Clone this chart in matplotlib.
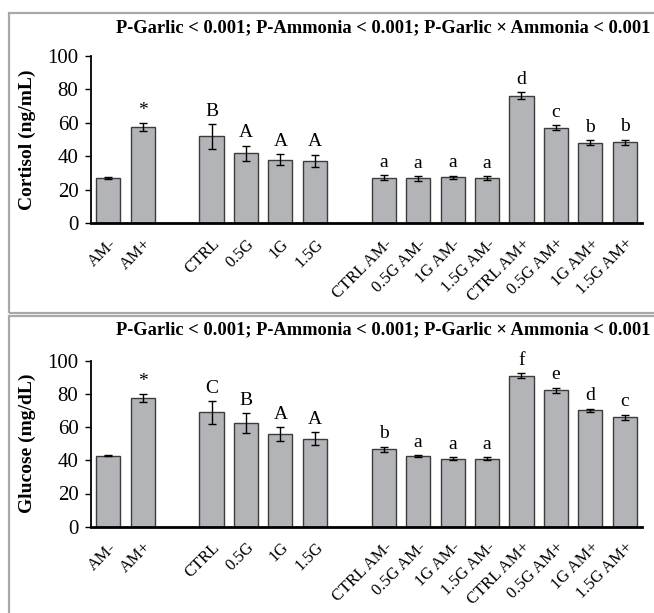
import matplotlib
matplotlib.use("Agg")
import matplotlib.pyplot as plt
from matplotlib.patches import Rectangle
import numpy as np

# categories (None = empty slot between groups)
labels = ["AM-", "AM+", None, "CTRL", "0.5G", "1G", "1.5G", None,
          "CTRL AM-", "0.5G AM-", "1G AM-", "1.5G AM-",
          "CTRL AM+", "0.5G AM+", "1G AM+", "1.5G AM+"]

cortisol = [27.2, 57.5, 51.9, 41.9, 38.0, 37.5,
            27.3, 26.8, 27.5, 27.0, 76.2, 57.1, 48.1, 48.5]
cortisol_err = [0.5, 2.5, 7.5, 4.6, 3.4, 3.6,
                1.5, 1.4, 1.0, 1.2, 2.0, 1.4, 1.4, 1.5]
cortisol_sig = ["", "*", "B", "A", "A", "A",
                "a", "a", "a", "a", "d", "c", "b", "b"]

glucose = [42.8, 77.3, 68.9, 62.4, 55.8, 53.1,
           46.8, 42.6, 41.0, 40.8, 91.0, 82.3, 70.2, 65.8]
glucose_err = [0.5, 2.4, 7.0, 6.1, 4.4, 4.0,
               1.5, 0.8, 1.0, 0.9, 1.5, 1.5, 1.0, 1.7]
glucose_sig = ["", "*", "C", "B", "A", "A",
               "b", "a", "a", "a", "f", "e", "d", "c"]

ptext = "P-Garlic < 0.001; P-Ammonia < 0.001; P-Garlic \u00d7 Ammonia < 0.001"

serif = ["Liberation Serif", "DejaVu Serif"]
plt.rcParams['font.family'] = serif

W, H = 654, 613
fig = plt.figure(figsize=(W / 100, H / 100), dpi=100)

# panel frames
for (y0, y1) in [(13, 313), (316, 640)]:
    fig.patches.append(Rectangle((9 / W, 1 - y1 / H), 700 / W, (y1 - y0) / H,
                                 transform=fig.transFigure, fill=False,
                                 edgecolor="#a8a8a8", lw=1.6))

pos = [i for i, l in enumerate(labels) if l is not None]
names = [l for l in labels if l is not None]


def panel(rect, vals, errs, sig, ylabel, title_y):
    ax = fig.add_axes(rect)
    ax.bar(pos, vals, width=0.7, color="#b3b4b8", edgecolor="#3c3c3c", lw=1.0,
           yerr=errs, capsize=3, error_kw=dict(elinewidth=1, capthick=1, ecolor="black"))
    for x, v, e, s in zip(pos, vals, errs, sig):
        ax.text(x, v + e + 2.5, s, ha="center", va="bottom", fontsize=14)
    ax.set_xlim(-0.5, 15.5)
    ax.set_ylim(0, 100)
    ax.set_yticks(range(0, 101, 20))
    ax.tick_params(axis="y", labelsize=15, length=4, width=1, direction="out", pad=5)
    ax.set_xticks(pos)
    ax.set_xticklabels(names, rotation=45, ha="right", rotation_mode="anchor", fontsize=12)
    ax.tick_params(axis="x", length=0, pad=9)
    for sp in ["top", "right"]:
        ax.spines[sp].set_visible(False)
    ax.spines["left"].set_linewidth(1.3)
    ax.spines["bottom"].set_linewidth(2)
    ax.set_ylabel(ylabel, fontsize=14, fontweight="bold", labelpad=8)
    fig.text(651 / W, 1 - title_y / H, ptext, ha="right", va="center",
             fontsize=13.3, fontweight="bold")
    return ax


panel([91 / W, 1 - 223.3 / H, 551 / W, 167.3 / H],
      cortisol, cortisol_err, cortisol_sig, "Cortisol (ng/mL)", 28)
panel([91 / W, 1 - 526.7 / H, 551 / W, 166 / H],
      glucose, glucose_err, glucose_sig, "Glucose (mg/dL)", 330)

fig.savefig("out.png", dpi=100)
